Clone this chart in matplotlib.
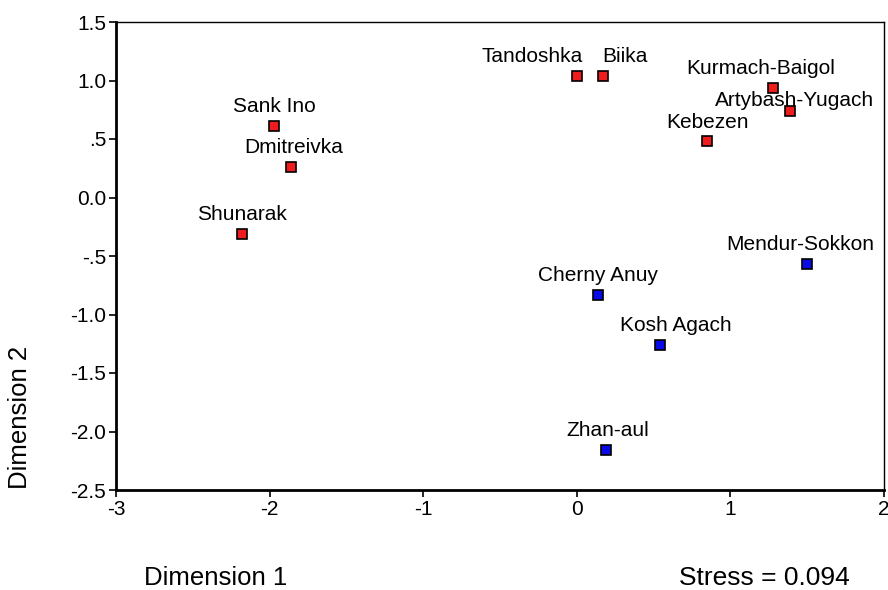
import matplotlib.pyplot as plt
from matplotlib.ticker import FixedLocator, FixedFormatter

plt.rcParams['font.family'] = ['Liberation Sans', 'DejaVu Sans']

# MDS coordinates
names = ['Sank Ino', 'Dmitreivka', 'Shunarak', 'Tandoshka', 'Biika',
         'Kurmach-Baigol', 'Artybash-Yugach', 'Kebezen',
         'Mendur-Sokkon', 'Cherny Anuy', 'Kosh Agach', 'Zhan-aul']
dim1 = [-1.97, -1.86, -2.18, 0.00, 0.17, 1.28, 1.39, 0.85, 1.50, 0.14, 0.54, 0.19]
dim2 = [0.61, 0.26, -0.31, 1.04, 1.04, 0.94, 0.74, 0.48, -0.57, -0.83, -1.26, -2.16]
group = ['r', 'r', 'r', 'r', 'r', 'r', 'r', 'r', 'b', 'b', 'b', 'b']

xticks = [-3, -2, -1, 0, 1, 2]
xtick_labels = ['-3', '-2', '-1', '0', '1', '2']
yticks = [1.5, 1.0, 0.5, 0.0, -0.5, -1.0, -1.5, -2.0, -2.5]
ytick_labels = ['1.5', '1.0', '.5', '0.0', '-.5', '-1.0', '-1.5', '-2.0', '-2.5']

colors = {'r': '#ee1c1c', 'b': '#0a0ae6'}

# label nudges in pixels (the original placed labels to avoid collisions)
nudge = {'Tandoshka': (-45, 0), 'Biika': (22, 0), 'Kurmach-Baigol': (-13, 0),
         'Artybash-Yugach': (4, -9), 'Kosh Agach': (16, 0), 'Dmitreivka': (3, 0),
         'Mendur-Sokkon': (-7, 0), 'Zhan-aul': (2, 0)}

fig = plt.figure(figsize=(8.88, 5.90), dpi=100)
ax = fig.add_axes([116 / 888, 1 - 490 / 590, (884 - 116) / 888, (490 - 22) / 590])

for x, y, n, g in zip(dim1, dim2, names, group):
    ax.plot(x, y, marker='s', markersize=6.5, markerfacecolor=colors[g],
            markeredgecolor='black', markeredgewidth=1.2, linestyle='none',
            clip_on=False, zorder=3)
    dx, dy = nudge.get(n, (0, 0))
    ax.annotate(n, (x, y), xytext=(dx * 0.72, 7 + dy * 0.72), textcoords='offset points',
                ha='center', va='bottom', fontsize=15, zorder=2)

ax.set_xlim(-3, 2)
ax.set_ylim(-2.5, 1.5)
ax.xaxis.set_major_locator(FixedLocator(xticks))
ax.xaxis.set_major_formatter(FixedFormatter(xtick_labels))
ax.yaxis.set_major_locator(FixedLocator(yticks))
ax.yaxis.set_major_formatter(FixedFormatter(ytick_labels))
ax.tick_params(labelsize=15, direction='out', length=5, width=1.2, pad=2)

ax.spines['left'].set_linewidth(2)
ax.spines['bottom'].set_linewidth(2)
ax.spines['top'].set_linewidth(1)
ax.spines['right'].set_linewidth(1)

fig.text(20 / 888, 1 - 489 / 590, 'Dimension 2', rotation=90, ha='center', va='bottom', fontsize=18.5)
fig.text(144 / 888, 1 - 578 / 590, 'Dimension 1', ha='left', va='center', fontsize=18.5)
fig.text(679 / 888, 1 - 578 / 590, 'Stress = 0.094', ha='left', va='center', fontsize=19)

fig.savefig('out.png', dpi=100)
